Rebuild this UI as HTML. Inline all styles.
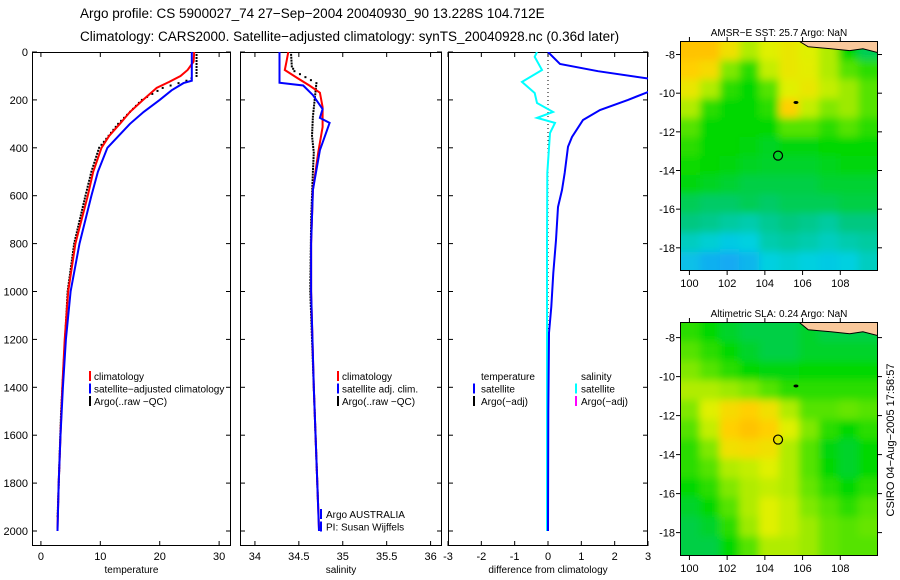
<!DOCTYPE html>
<html><head><meta charset="utf-8"><style>
html,body{margin:0;padding:0;background:#fff}
svg{display:block;font-family:"Liberation Sans",sans-serif}
</style></head><body>
<svg id="c" width="900" height="580" xmlns="http://www.w3.org/2000/svg">
<text x="80" y="18" font-size="13.5">Argo profile: CS 5900027_74 27−Sep−2004 20040930_90 13.228S 104.712E</text>
<text x="80" y="41" font-size="13.5">Climatology: CARS2000. Satellite−adjusted climatology: synTS_20040928.nc (0.36d later)</text>
<text transform="translate(894,440) rotate(-90)" text-anchor="middle" font-size="11">CSIRO 04−Aug−2005 17:58:57</text>
</svg>
<script>
// ---------- data ----------
const depthTicks=[0,200,400,600,800,1000,1200,1400,1600,1800,2000];
const tempTicks=[0,10,20,30];
const salTicks=[34,34.5,35,35.5,36];
const diffTicks=[-3,-2,-1,0,1,2,3];
const tClimDepth=[0,40,75,100,125,150,200,250,300,350,400,500,600,800,1000,1200,1400,1600,1800,1990];
const tClimVal=[25.8,25.7,24.7,23.5,21.6,19.5,17.2,15,13.3,11.5,10.2,8.8,7.9,5.8,4.6,4,3.6,3.3,3,2.8];
const tSatDepth=[0,120,130,160,200,250,300,400,500,600,800,1000,1200,1400,1600,1800,2000];
const tSatVal=[25.4,25.4,24,22,20,17.3,15,11.2,9.6,8.5,6.5,5,4.2,3.7,3.3,3,2.8];
const tArgoDepth=[0,100,120,150,200,300,400,500,600,800,1000,1500,1950];
const tArgoVal=[26.2,26.2,24.5,20.5,17,13,9.8,8.5,7.5,5.6,4.5,3.4,2.8];
const sClimDepth=[0,40,75,108,140,170,230,313,420,576,800,1000,1400,1800,1990];
const sClimVal=[34.38,34.36,34.34,34.48,34.62,34.74,34.77,34.77,34.72,34.66,34.64,34.64,34.67,34.71,34.73];
const sSatDepth=[0,128,140,180,238,275,296,410,576,800,1000,1400,1800,2000];
const sSatVal=[34.28,34.28,34.55,34.66,34.77,34.74,34.85,34.74,34.66,34.64,34.64,34.67,34.71,34.73];
const sArgoDepth=[0,60,80,130,200,270,350,420,500,700,1000,1400,1900];
const sArgoVal=[34.41,34.42,34.45,34.7,34.68,34.66,34.65,34.67,34.66,34.64,34.63,34.67,34.72];
const dTDepth=[0,50,80,117,150,167,200,242,284,355,396,505,576,647,785,923,1064,1173,1500,2000];
const dTVal=[0,0.36,1.5,3.3,3.3,3,2.4,1.56,1.05,0.72,0.6,0.5,0.42,0.3,0.24,0.16,0.1,0.03,0.01,0];
const dSDepth=[0,20,75,125,171,213,250,275,296,338,505,800,1200,2000];
const dSVal=[-0.33,-0.4,-0.18,-0.78,-0.4,-0.33,0.15,-0.33,0.21,0.06,-0.02,-0.03,-0.03,-0.03];
const lonTicks=[100,102,104,106,108];
const latTicks=[-8,-10,-12,-14,-16,-18];
const sstGrid=[
[0.88,0.88,0.8,0.7,0.75,0.78,0.75,0.7,0.5,0.4],
[0.85,0.82,0.65,0.55,0.72,0.78,0.76,0.7,0.6,0.55],
[0.78,0.7,0.55,0.5,0.6,0.75,0.78,0.72,0.68,0.6],
[0.7,0.55,0.5,0.5,0.55,0.85,0.72,0.65,0.68,0.6],
[0.6,0.5,0.5,0.5,0.5,0.6,0.6,0.55,0.6,0.55],
[0.55,0.5,0.5,0.48,0.46,0.48,0.48,0.5,0.5,0.5],
[0.52,0.5,0.48,0.46,0.45,0.45,0.45,0.47,0.48,0.48],
[0.48,0.46,0.44,0.42,0.42,0.42,0.42,0.44,0.44,0.44],
[0.4,0.38,0.38,0.4,0.38,0.4,0.4,0.4,0.42,0.42],
[0.35,0.33,0.3,0.28,0.32,0.35,0.33,0.3,0.35,0.35],
[0.25,0.22,0.18,0.2,0.28,0.3,0.28,0.25,0.28,0.3],
[0.15,0.1,0.08,0.12,0.2,0.22,0.2,0.18,0.2,0.25]];
const slaGrid=[
[0.55,0.5,0.45,0.42,0.42,0.42,0.45,0.42,0.42,0.42],
[0.6,0.55,0.5,0.45,0.42,0.42,0.45,0.45,0.45,0.45],
[0.65,0.6,0.55,0.5,0.48,0.48,0.5,0.5,0.5,0.5],
[0.7,0.7,0.68,0.65,0.6,0.55,0.55,0.55,0.55,0.55],
[0.65,0.75,0.82,0.85,0.8,0.7,0.6,0.6,0.62,0.6],
[0.6,0.72,0.85,0.88,0.85,0.75,0.65,0.55,0.5,0.55],
[0.55,0.65,0.8,0.82,0.8,0.7,0.6,0.48,0.45,0.5],
[0.55,0.6,0.7,0.72,0.75,0.7,0.6,0.5,0.45,0.5],
[0.5,0.55,0.65,0.7,0.72,0.7,0.62,0.55,0.5,0.55],
[0.45,0.5,0.6,0.7,0.75,0.72,0.65,0.6,0.55,0.6],
[0.42,0.45,0.55,0.68,0.75,0.72,0.68,0.62,0.6,0.62],
[0.42,0.42,0.5,0.6,0.7,0.7,0.68,0.62,0.6,0.6]];
const floatLon=[104.7], floatLat=[-13.23];

// ---------- helpers ----------
const svg=document.getElementById('c');
const NS='http://www.w3.org/2000/svg';
function mk(tag,attrs,parent){const e=document.createElementNS(NS,tag);for(const k in attrs)e.setAttribute(k,attrs[k]);(parent||svg).appendChild(e);return e;}
const Y0=52, YS=0.2395;
const yD=d=>Y0+d*YS;
function panel(name,x0,x1,xmin,xmax){return {name,x0,x1,xs:v=>x0+(v-xmin)/(xmax-xmin)*(x1-x0)};}
const P1=panel('temperature',32,231,-1.5,32);
const P2=panel('salinity',240,442,33.83,36.13);
const P3=panel('difference',448,648,-3,3);
const TOP=52,BOT=546;

function frame(P,xt,xlabel,showY){
  const g=mk('g',{});
  
  
  const cp=mk('clipPath',{id:'cp-'+P.name},g);
  mk('rect',{x:P.x0,y:TOP,width:P.x1-P.x0,height:BOT-TOP},cp);
  mk('rect',{x:P.x0+0.5,y:TOP+0.5,width:P.x1-P.x0-1,height:BOT-TOP-1,fill:'#fff',stroke:'#000','stroke-width':1},g);
  xt.forEach(v=>{const x=P.xs(v);
    mk('line',{x1:x,y1:TOP,x2:x,y2:TOP+5,stroke:'#000'},g);
    mk('line',{x1:x,y1:BOT,x2:x,y2:BOT-5,stroke:'#000'},g);
    const t=mk('text',{x:x,y:560,'font-size':11,'text-anchor':'middle'},g);t.textContent=v;
    
    });
  depthTicks.forEach(d=>{const y=yD(d);
    mk('line',{x1:P.x0,y1:y,x2:P.x0+5,y2:y,stroke:'#000'},g);
    mk('line',{x1:P.x1,y1:y,x2:P.x1-5,y2:y,stroke:'#000'},g);
    if(showY){const t=mk('text',{x:P.x0-4,y:y+4,'font-size':11,'text-anchor':'end'},g);t.textContent=d;
      
      }});
  const xl=mk('text',{x:(P.x0+P.x1)/2,y:573,'font-size':10,'text-anchor':'middle'},g);xl.textContent=xlabel;
  
  
  const inner=mk('g',{'clip-path':'url(#cp-'+P.name+')'},g);
  return inner;
}
function line(g,P,ds,vs,color,w,name){
  const pts=ds.map((d,i)=>P.xs(vs[i]).toFixed(1)+','+yD(d).toFixed(1)).join(' ');
  const l=mk('polyline',{points:pts,fill:'none',stroke:color,'stroke-width':w},g);
  
  
}
function dots(g,P,ds,vs,name){
  const gg=mk('g',{fill:'#000'},g);
  
  
  for(let i=0;i<ds.length-1;i++){
    const n=Math.max(2,Math.round((ds[i+1]-ds[i])/12));
    for(let k=0;k<n;k++){const f=k/n;const d=ds[i]+(ds[i+1]-ds[i])*f;const v=vs[i]+(vs[i+1]-vs[i])*f;
      mk('rect',{x:P.xs(v)-1,y:yD(d)-1,width:2,height:2},gg);}
  }
}
function legend(entries,x,y,tx){
  entries.forEach((e,i)=>{const yy=y+i*12.5;
    const g=mk('g',{});
    
    
    mk('line',{x1:x,y1:yy-9,x2:x,y2:yy+1,stroke:e[1],'stroke-width':2},g);
    const t=mk('text',{x:tx,y:yy,'font-size':10},g);t.textContent=e[0];});
}

// panel 1
let g1=frame(P1,tempTicks,'temperature',true);
dots(g1,P1,tArgoDepth,tArgoVal,'argo-temperature-points');
line(g1,P1,tClimDepth,tClimVal,'#f00',2,'climatology-temperature-line');
line(g1,P1,tSatDepth,tSatVal,'#00f',2,'satellite-temperature-line');
legend([['climatology','#f00'],['satellite−adjusted climatology','#00f'],['Argo(..raw −QC)','#000']],90,380,94);
// panel 2
let g2=frame(P2,salTicks,'salinity',false);
dots(g2,P2,sArgoDepth,sArgoVal,'argo-salinity-points');
line(g2,P2,sClimDepth,sClimVal,'#f00',2,'climatology-salinity-line');
line(g2,P2,sSatDepth,sSatVal,'#00f',2,'satellite-salinity-line');
legend([['climatology','#f00'],['satellite adj. clim.','#00f'],['Argo(..raw −QC)','#000']],338,380,342);
legend([['Argo AUSTRALIA','#00f'],['PI: Susan Wijffels','#00f']],321,518,326);
// panel 3
let g3=frame(P3,diffTicks,'difference from climatology',false);
const zl=mk('line',{x1:P3.xs(0),y1:TOP,x2:P3.xs(0),y2:360,stroke:'#000','stroke-dasharray':'1,3'},g3);


line(g3,P3,dSDepth,dSVal,'#0ff',2,'salinity-difference-line');
line(g3,P3,dTDepth,dTVal,'#00f',2,'temperature-difference-line');
let lt=mk('text',{x:481,y:380,'font-size':10});lt.textContent='temperature';


legend([['satellite','#00f'],['Argo(−adj)','#000']],474,392.5,481);
let ls=mk('text',{x:581,y:380,'font-size':10});ls.textContent='salinity';


legend([['satellite','#0ff'],['Argo(−adj)','#f0f']],576,392.5,581);

// maps
const cstops=[[0,[30,144,255]],[0.2,[0,208,224]],[0.35,[0,200,128]],[0.5,[0,216,0]],[0.65,[128,232,0]],[0.75,[224,240,0]],[0.85,[255,208,0]],[1,[255,144,0]]];
function cmap(v){for(let i=0;i<cstops.length-1;i++){const a=cstops[i],b=cstops[i+1];if(v<=b[0]){const f=(v-a[0])/(b[0]-a[0]);return 'rgb('+a[1].map((c,j)=>Math.round(c+(b[1][j]-c)*f)).join(',')+')';}}return 'rgb(255,144,0)';}
function map(name,title,grid,x0,y0,x1,y1,latTop,latBot){
  const lon0=99.5,lon1=110;
  const xs=l=>x0+(l-lon0)/(lon1-lon0)*(x1-x0);
  const ys=l=>y0+(latTop-l)/(latTop-latBot)*(y1-y0);
  const g=mk('g',{});
  
  
  const id='clip-'+name;
  const cp=mk('clipPath',{id},g);mk('rect',{x:x0,y:y0,width:x1-x0,height:y1-y0},cp);
  const fid='blur-'+name;
  const f=mk('filter',{id:fid,x:'-10%',y:'-10%',width:'120%',height:'120%'},g);
  mk('feGaussianBlur',{stdDeviation:4},f);
  const inner=mk('g',{'clip-path':'url(#'+id+')'},g);
  const cells=mk('g',{filter:'url(#'+fid+')'},inner);
  const nr=grid.length,nc=grid[0].length,cw=(x1-x0)/nc,ch=(y1-y0)/nr;
  grid.forEach((row,r)=>row.forEach((v,c)=>{const rc=mk('rect',{x:x0+c*cw-(c==0?15:0),y:y0+r*ch-(r==0?15:0),width:cw+1+(c==0||c==nc-1?15:0),height:ch+1+(r==0||r==nr-1?15:0),fill:cmap(v)},cells);
    
    }));
  const land=mk('path',{d:`M${xs(105.8)},${y0} L${xs(106.3)},${ys(-7.6)} L${xs(107.5)},${ys(-7.7)} L${xs(108.5)},${ys(-7.8)} L${xs(109.2)},${ys(-7.7)} L${xs(110)},${ys(-7.9)} L${xs(110)},${y0} Z`,fill:'#f9c89b',stroke:'#000','stroke-width':1},inner);
  
  
  const isl=mk('ellipse',{cx:xs(105.65),cy:ys(-10.48),rx:2.5,ry:1.5,fill:'#000'},inner);
  
  
  floatLon.forEach((lo,i)=>{const m=mk('circle',{cx:xs(lo),cy:ys(floatLat[i]),r:4.5,fill:'none',stroke:'#000','stroke-width':1.2},inner);
    
    });
  mk('rect',{x:x0+0.5,y:y0+0.5,width:x1-x0-1,height:y1-y0-1,fill:'none',stroke:'#000'},g);
  lonTicks.forEach(l=>{const x=xs(l);mk('line',{x1:x,y1:y0,x2:x,y2:y0-4,stroke:'#000'},g);mk('line',{x1:x,y1:y1,x2:x,y2:y1+4,stroke:'#000'},g);
    const t=mk('text',{x:x,y:y1+16,'font-size':11,'text-anchor':'middle'},g);t.textContent=l;
    
    });
  latTicks.forEach(l=>{const y=ys(l);mk('line',{x1:x0,y1:y,x2:x0-4,y2:y,stroke:'#000'},g);mk('line',{x1:x1,y1:y,x2:x1+4,y2:y,stroke:'#000'},g);
    const t=mk('text',{x:x0-5,y:y+4,'font-size':11,'text-anchor':'end'},g);t.textContent=l;
    
    });
  const tt=mk('text',{x:(x0+x1)/2,y:y0-5,'font-size':10,'text-anchor':'middle'},g);tt.textContent=title;
  
  
}
map('sst-map','AMSR−E SST: 25.7 Argo: NaN',sstGrid,680,41,878,271,-7.3,-19.2);
map('sla-map','Altimetric SLA: 0.24 Argo: NaN',slaGrid,680,322,878,556,-7.2,-19.2);
</script>
</body></html>
